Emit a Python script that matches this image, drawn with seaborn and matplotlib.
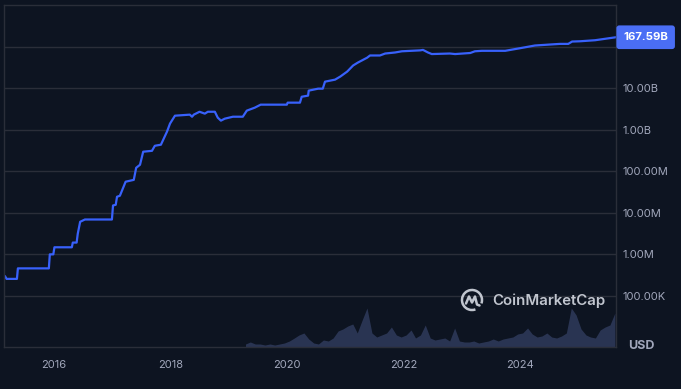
import pandas as pd
import matplotlib
matplotlib.use("Agg")
import matplotlib.pyplot as plt
import matplotlib.dates as mdates
from matplotlib.ticker import FixedLocator, FuncFormatter, NullLocator
from matplotlib.patches import Arc
import seaborn as sns

# market cap (USD)
dates = ["2015-02-28", "2015-03-10", "2015-05-14", "2015-05-20", "2015-11-30", "2015-12-06",
         "2015-12-28", "2016-01-04", "2016-04-22", "2016-04-28", "2016-05-22", "2016-05-29",
         "2016-06-13", "2016-07-13", "2016-12-29", "2017-01-05", "2017-01-22", "2017-01-30",
         "2017-02-17", "2017-03-25", "2017-05-15", "2017-05-30", "2017-06-23", "2017-07-13",
         "2017-09-06", "2017-09-24", "2017-11-01", "2017-12-09", "2017-12-28", "2018-01-28",
         "2018-05-01", "2018-05-15", "2018-05-26", "2018-07-01", "2018-08-03", "2018-08-22",
         "2018-10-05", "2018-10-23", "2018-11-12", "2018-12-06", "2019-01-26", "2019-03-29",
         "2019-04-23", "2019-06-13", "2019-07-19", "2019-12-30", "2020-01-04", "2020-03-21",
         "2020-04-01", "2020-05-11", "2020-05-15", "2020-07-13", "2020-08-11", "2020-08-25",
         "2020-10-27", "2020-11-29", "2021-01-11", "2021-02-17", "2021-03-18", "2021-05-16",
         "2021-06-03", "2021-08-04", "2021-09-06", "2021-11-07", "2021-12-20", "2022-04-13",
         "2022-05-01", "2022-06-01", "2022-06-25", "2022-10-16", "2022-11-18", "2023-02-21",
         "2023-03-22", "2023-05-05", "2023-09-28", "2023-12-28", "2024-04-01", "2024-09-05",
         "2024-10-27", "2024-11-20", "2025-01-08", "2025-04-13", "2025-08-22"]
market_cap = [3.0e5, 2.57e5, 2.57e5, 4.6e5, 4.6e5, 1.0e6,
              1.0e6, 1.48e6, 1.48e6, 1.92e6, 1.92e6, 3.12e6,
              6.07e6, 6.9e6, 6.9e6, 1.5e7, 1.56e7, 2.43e7,
              2.57e7, 5.6e7, 6.2e7, 1.21e8, 1.43e8, 2.95e8,
              3.1e8, 4.1e8, 4.35e8, 8.95e8, 1.4e9, 2.17e9,
              2.3e9, 2.05e9, 2.3e9, 2.7e9, 2.43e9, 2.7e9,
              2.7e9, 1.95e9, 1.65e9, 1.84e9, 2.05e9, 2.05e9,
              2.87e9, 3.4e9, 4.0e9, 4.0e9, 4.47e9, 4.47e9,
              6.2e9, 6.6e9, 8.7e9, 9.7e9, 9.7e9, 1.43e10,
              1.6e10, 1.9e10, 2.5e10, 3.5e10, 4.1e10, 5.4e10,
              6.1e10, 6.1e10, 6.8e10, 7.2e10, 7.7e10, 8.1e10,
              8.3e10, 7.2e10, 6.6e10, 6.8e10, 6.6e10, 7.0e10,
              7.7e10, 7.9e10, 7.9e10, 9.1e10, 1.06e11, 1.16e11,
              1.16e11, 1.32e11, 1.34e11, 1.42e11, 1.6759e11]

# monthly trading volume (million USD, rough), Apr 2019 - Aug 2025
volume = [30, 50, 30, 30, 20, 30, 20, 30, 40,
          60, 90, 120, 140, 80, 40, 30, 70, 60, 90, 160, 180,
          210, 230, 140, 270, 390, 140, 100, 120, 140, 200, 120, 100,
          120, 170, 90, 120, 220, 90, 70, 80, 90, 60, 190, 60,
          50, 50, 60, 40, 50, 60, 80, 60, 80, 90, 100, 130,
          140, 190, 130, 100, 110, 140, 100, 90, 110, 140, 390, 320,
          180, 120, 100, 90, 170, 200, 220, 340]

BG = "#0d1421"
GRID = "#2a2e39"
TXT = "#a1a7bb"
BLUE = "#3861fb"

sns.set_theme(style="dark", rc={"figure.facecolor": BG, "axes.facecolor": BG})
plt.rcParams["font.family"] = ["Inter", "DejaVu Sans"]

df = pd.DataFrame({"date": pd.to_datetime(dates), "cap": market_cap})
vol_dates = pd.date_range("2019-04-01", periods=len(volume), freq="MS") + pd.Timedelta(days=14)

fig = plt.figure(figsize=(6.81, 3.89), dpi=100)
pos = [4 / 681, 1 - 347 / 389, 612 / 681, 342 / 389]
ax_vol = fig.add_axes(pos)
ax = fig.add_axes(pos, sharex=ax_vol)

# volume underlay
ax_vol.fill_between(vol_dates, volume, color="#2d3858", alpha=0.9, linewidth=0)
ax_vol.set_ylim(0, max(volume) * 342 / 39)
ax_vol.set_facecolor(BG)
ax_vol.set_yticks([])
for s in ax_vol.spines.values():
    s.set_visible(False)

ax.patch.set_visible(False)
sns.lineplot(data=df, x="date", y="cap", ax=ax, color=BLUE, linewidth=1.6)
ax.set_yscale("log")
ax.set_ylim(5.9e3, 1.0e12)
ax.set_xlim(pd.Timestamp("2015-02-22"), df["date"].iloc[-1])


def fmt(v, pos):
    if v >= 1e11:
        return ""
    for div, suf in [(1e9, "B"), (1e6, "M"), (1e3, "K")]:
        if v >= div:
            return f"{v / div:.2f}{suf}"
    return f"{v:.2f}"


ax.yaxis.set_major_locator(FixedLocator([1e5, 1e6, 1e7, 1e8, 1e9, 1e10, 1e11]))
ax.yaxis.set_major_formatter(FuncFormatter(fmt))
ax.yaxis.set_minor_locator(NullLocator())
ax.yaxis.tick_right()
ax.grid(axis="y", color=GRID, linewidth=1)
ax.grid(axis="x", visible=False)
ax.xaxis.set_major_locator(mdates.YearLocator(2))
ax.xaxis.set_major_formatter(mdates.DateFormatter("%Y"))
ax.tick_params(axis="y", length=0, pad=4.5, labelsize=8, labelcolor=TXT)
ax.tick_params(axis="x", length=0, pad=9, labelsize=8, labelcolor=TXT)
ax_vol.tick_params(axis="x", labelbottom=False, length=0)
ax.set_xlabel("")
ax.set_ylabel("")
for s in ax.spines.values():
    s.set_color(GRID)
    s.set_linewidth(1)

# last value badge
last = market_cap[-1]
ax.annotate(f"{last / 1e9:.2f}B", xy=(1, last), xycoords=("axes fraction", "data"),
            xytext=(5.2, 0), textcoords="offset points", ha="left", va="center",
            fontsize=8.2, fontweight="bold", color="white", annotation_clip=False, zorder=10,
            bbox=dict(boxstyle="round,pad=0.6,rounding_size=0.25", fc="#4a6ef5", ec="none"))

fig.text(628 / 681, 1 - 346 / 389, "USD", ha="left", va="center",
         fontsize=9, fontweight="bold", color=TXT)

# watermark
fig.text(492 / 681, 1 - 301 / 389, "CoinMarketCap", ha="left", va="center",
         fontsize=10.8, fontweight="semibold", color="#d5d9e2", alpha=0.9)
logo = fig.add_axes([460 / 681, 1 - 312 / 389, 24 / 681, 24 / 389])
logo.set_xlim(-1.2, 1.2)
logo.set_ylim(-1.2, 1.2)
logo.set_aspect("equal")
logo.axis("off")
logo.add_patch(Arc((0, 0), 2, 2, theta1=-20, theta2=290, color="#d5d9e2", lw=1.8, alpha=0.9))
logo.plot([-0.6, -0.3, 0.0, 0.3, 0.5, 0.75],
          [-0.35, 0.35, -0.25, 0.35, -0.45, -0.55], color="#d5d9e2", lw=1.8, alpha=0.9,
          solid_joinstyle="round")

fig.savefig("out.png", dpi=100, facecolor=BG)
